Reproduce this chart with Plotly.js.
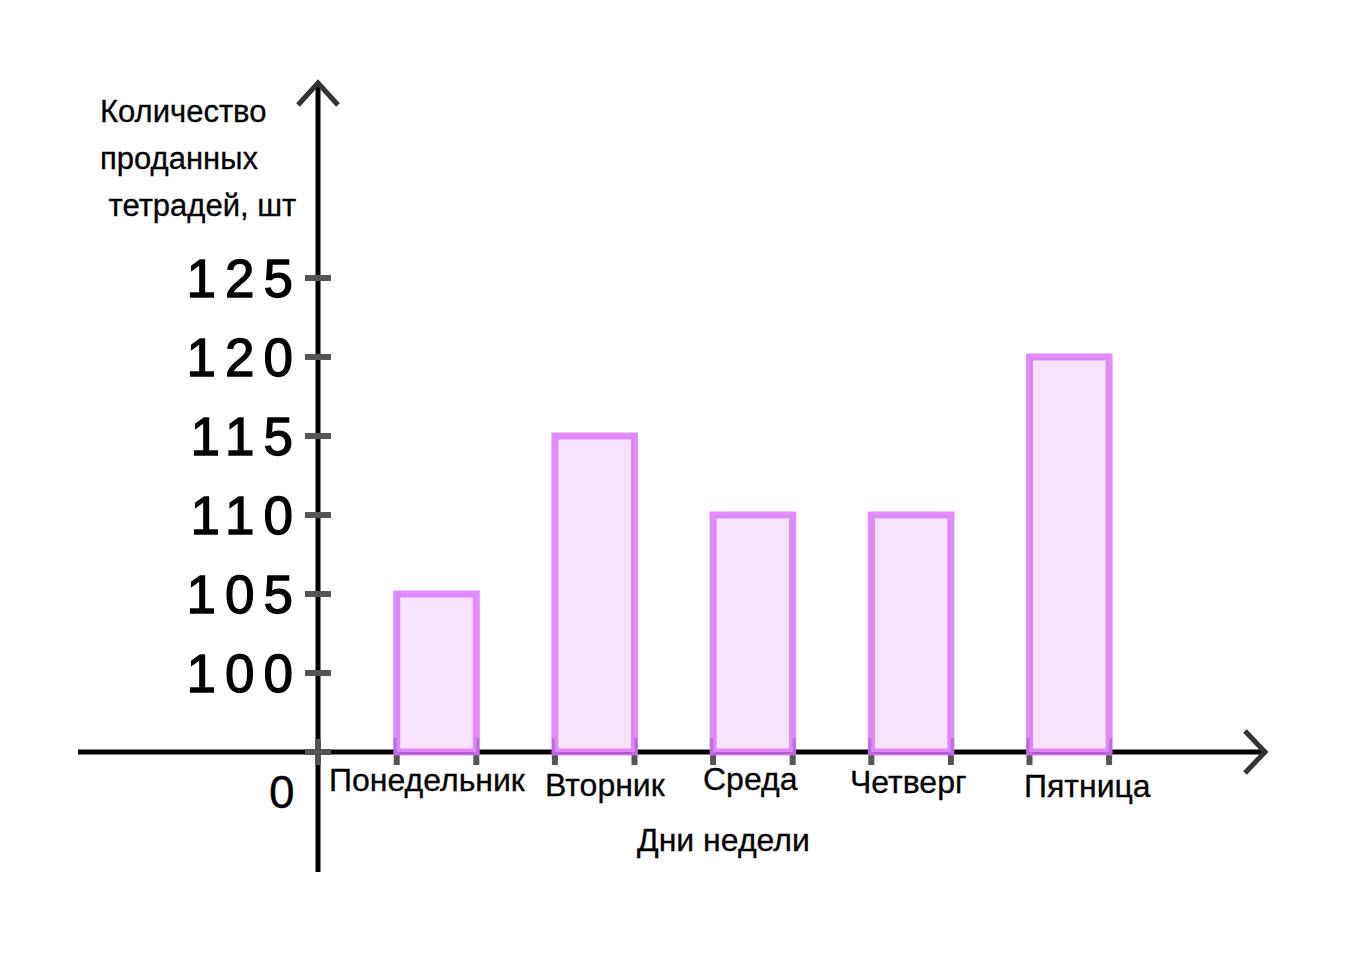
<!DOCTYPE html>
<html>
<head>
<meta charset="utf-8">
<script src="https://cdn.plot.ly/plotly-3.0.1.min.js"></script>
<style>
  html, body { margin: 0; padding: 0; background: #ffffff; }
  #chart { width: 1350px; height: 957px; }
  .ytick text { letter-spacing: 9px; stroke: #000; stroke-width: 1.3px; }
  .annotation-text { stroke: #000; stroke-width: 0.3px; }
</style>
</head>
<body>
<div id="chart"></div>
<script>
// ---- data ----
const days = ['Понедельник', 'Вторник', 'Среда', 'Четверг', 'Пятница'];
const sold = [105, 115, 110, 110, 120];
const yTickValues = [100, 105, 110, 115, 120, 125];
const yTickLabels = ['100', '105', '110', '115', '120', '125'];
const originLabel = '0';
const yTitleLines = ['Количество', 'проданных', '\u00a0тетрадей, шт'];
const xTitle = 'Дни недели';
const axisBase = 95; // value at which the (broken) value axis meets the day axis

// ---- styling / layout helpers ----
const W = 1350, H = 957;
const px = v => v / W;          // pixel x -> paper
const py = v => 1 - v / H;      // pixel y -> paper
const FONT = 'Liberation Sans, Arial, Helvetica, sans-serif';
const barWidth = 0.503;
const labelNudgeX = [-9, 11, -2, -3, 18];
const labelNudgeY = [28, 33, 27, 30, 34];
const xIdx = days.map((d, i) => i);

const barTrace = {
  type: 'bar',
  x: xIdx,
  y: sold.map(v => v - axisBase),
  base: axisBase,
  width: barWidth,
  marker: {
    color: 'rgb(247,227,253)',
    line: { color: 'rgba(217,111,255,0.8)', width: 7 }
  },
  hoverinfo: 'skip',
  showlegend: false
};

const shapes = [];
// day axis (horizontal) with arrow
shapes.push({ type: 'line', layer: 'below', xref: 'paper', yref: 'y',
  x0: px(78), x1: px(1265), y0: axisBase, y1: axisBase,
  line: { color: '#000', width: 5 } });
shapes.push({ type: 'path', layer: 'below', xref: 'paper', yref: 'paper',
  path: `M ${px(1245)},${py(731)} L ${px(1265)},${py(752)} L ${px(1245)},${py(773)}`,
  line: { color: '#333', width: 5 } });
// value axis (vertical) with arrow
shapes.push({ type: 'line', layer: 'below', xref: 'paper', yref: 'paper',
  x0: px(318), x1: px(318), y0: py(83), y1: py(872),
  line: { color: '#000', width: 5 } });
shapes.push({ type: 'path', layer: 'below', xref: 'paper', yref: 'paper',
  path: `M ${px(298)},${py(105)} L ${px(318)},${py(83)} L ${px(338)},${py(105)}`,
  line: { color: '#333', width: 5 } });
// value-axis tick marks
[axisBase].concat(yTickValues).forEach(v => {
  shapes.push({ type: 'line', layer: 'below', xref: 'paper', yref: 'y',
    x0: px(305), x1: px(331), y0: v, y1: v,
    line: { color: '#555', width: 6 } });
});
// origin vertical tick
shapes.push({ type: 'line', layer: 'below', xref: 'paper', yref: 'paper',
  x0: px(318), x1: px(318), y0: py(739), y1: py(765),
  line: { color: '#555', width: 6 } });
// bar-edge tick marks on the day axis
xIdx.forEach(i => {
  [i - barWidth / 2, i + barWidth / 2].forEach(e => {
    shapes.push({ type: 'line', layer: 'below', xref: 'x', yref: 'paper',
      x0: e, x1: e, y0: py(738), y1: py(765),
      line: { color: '#555', width: 6 } });
  });
});

const annotations = [];
days.forEach((d, i) => {
  annotations.push({ x: i, y: axisBase, xref: 'x', yref: 'y', text: d,
    showarrow: false, xanchor: 'center', yanchor: 'middle',
    xshift: labelNudgeX[i], yshift: -labelNudgeY[i],
    font: { family: FONT, size: 32, color: '#000' } });
});
annotations.push({ x: px(723), y: axisBase, xref: 'paper', yref: 'y', text: xTitle,
  showarrow: false, xanchor: 'center', yanchor: 'middle', yshift: -88,
  font: { family: FONT, size: 32, color: '#000' } });
annotations.push({ x: px(282), y: axisBase, xref: 'paper', yref: 'y', text: originLabel,
  showarrow: false, xanchor: 'center', yanchor: 'middle', yshift: -40,
  font: { family: FONT, size: 46, color: '#000' } });
const titleY = [111, 158, 206];
yTitleLines.forEach((t, k) => {
  annotations.push({ x: px(98), y: py(titleY[k]), xref: 'paper', yref: 'paper', text: t,
    showarrow: false, xanchor: 'left', yanchor: 'middle',
    font: { family: FONT, size: 31, color: '#000' } });
});

const xMin = -436.5 / 158.2;
const xMax = xMin + W / 158.2;
const pxPerUnit = 15.8;
const yMax = axisBase + 752 / pxPerUnit;
const yMin = yMax - H / pxPerUnit;

const layout = {
  width: W, height: H,
  margin: { l: 0, r: 0, t: 0, b: 0, pad: 0 },
  paper_bgcolor: '#fff', plot_bgcolor: '#fff',
  showlegend: false,
  bargap: 0,
  xaxis: { range: [xMin, xMax], showgrid: false, zeroline: false, showline: false,
    showticklabels: false, ticks: '', fixedrange: true },
  yaxis: { range: [yMin, yMax], anchor: 'free', position: px(318),
    tickmode: 'array', tickvals: yTickValues, ticktext: yTickLabels,
    showgrid: false, zeroline: false, showline: false, ticks: '',
    ticklabelstandoff: 16,
    tickfont: { family: FONT, size: 53, color: '#000' }, fixedrange: true },
  shapes: shapes,
  annotations: annotations
};

Plotly.newPlot('chart', [barTrace], layout, { staticPlot: true, displayModeBar: false });
</script>
</body>
</html>
